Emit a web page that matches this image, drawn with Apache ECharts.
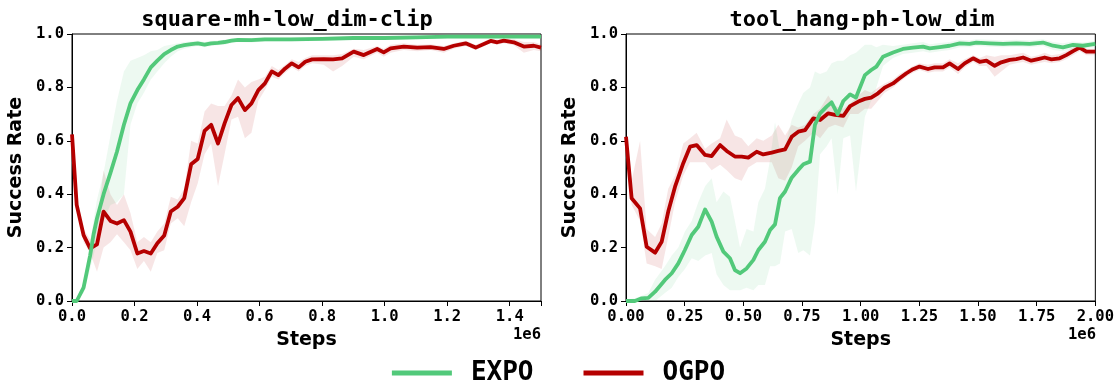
<!DOCTYPE html>
<html><head><meta charset="utf-8">
<script src="https://cdn.jsdelivr.net/npm/echarts@6/dist/echarts.min.js"></script>
<style>html,body{margin:0;padding:0;background:#fff}#c{width:1117px;height:381px}</style>
</head><body><div id="c"></div>
<script>
// ---------- DATA (steps in units of 1e6) ----------
const leftTitle = "square-mh-low_dim-clip";
const rightTitle = "tool_hang-ph-low_dim";
const seriesNames = ["EXPO", "OGPO"];
const leftXTicks = [0, 0.2, 0.4, 0.6, 0.8, 1.0, 1.2, 1.4];
const rightXTicks = [0, 0.25, 0.5, 0.75, 1.0, 1.25, 1.5, 1.75, 2.0];
const yTicks = [0, 0.2, 0.4, 0.6, 0.8, 1.0];

// Left: EXPO
const leftExpoSteps = [0,0.015,0.037,0.058,0.069,0.080,0.101,0.123,0.144,0.166,0.187,0.209,0.230,0.252,0.273,0.295,0.316,0.338,0.359,0.381,0.402,0.424,0.445,0.467,0.488,0.510,0.531,0.574,0.617,0.7,0.8,0.9,1.0,1.1,1.2,1.3,1.4,1.5];
const leftExpoMean  = [0,0.0,0.05,0.17,0.25,0.31,0.40,0.48,0.56,0.66,0.74,0.79,0.83,0.875,0.90,0.925,0.94,0.953,0.958,0.962,0.965,0.96,0.965,0.967,0.97,0.975,0.978,0.977,0.98,0.98,0.982,0.985,0.985,0.987,0.99,0.99,0.99,0.99];
const leftExpoLow   = [0,0,0.03,0.12,0.17,0.22,0.30,0.36,0.37,0.40,0.66,0.74,0.78,0.83,0.86,0.89,0.915,0.935,0.945,0.95,0.955,0.95,0.955,0.958,0.96,0.966,0.97,0.968,0.972,0.972,0.975,0.978,0.978,0.98,0.983,0.983,0.983,0.983];
const leftExpoHigh  = [0,0.01,0.07,0.22,0.30,0.38,0.48,0.62,0.75,0.86,0.90,0.91,0.92,0.935,0.94,0.955,0.96,0.965,0.97,0.972,0.975,0.97,0.975,0.976,0.978,0.982,0.985,0.985,0.988,0.988,0.99,0.992,0.992,0.994,0.996,0.996,0.996,0.996];

// Left: OGPO
const leftOgpoSteps = [0,0.015,0.037,0.058,0.080,0.101,0.123,0.144,0.166,0.187,0.209,0.230,0.252,0.273,0.295,0.316,0.338,0.359,0.381,0.402,0.424,0.445,0.467,0.488,0.510,0.531,0.553,0.574,0.596,0.617,0.639,0.660,0.682,0.703,0.725,0.746,0.768,0.805,0.835,0.864,0.901,0.933,0.976,0.997,1.019,1.061,1.104,1.147,1.189,1.221,1.259,1.291,1.339,1.36,1.381,1.413,1.445,1.477,1.5];
const leftOgpoMean  = [0.624,0.36,0.247,0.197,0.212,0.335,0.30,0.29,0.303,0.26,0.178,0.187,0.178,0.216,0.245,0.335,0.353,0.385,0.512,0.532,0.637,0.66,0.59,0.665,0.734,0.76,0.715,0.74,0.79,0.815,0.86,0.846,0.871,0.89,0.875,0.896,0.905,0.906,0.905,0.909,0.934,0.921,0.944,0.931,0.946,0.953,0.949,0.951,0.944,0.956,0.965,0.949,0.974,0.969,0.975,0.969,0.953,0.956,0.949];
const leftOgpoLow   = [0.62,0.34,0.22,0.18,0.11,0.20,0.22,0.25,0.22,0.19,0.12,0.15,0.11,0.18,0.19,0.29,0.31,0.28,0.37,0.44,0.55,0.59,0.43,0.55,0.68,0.69,0.61,0.63,0.75,0.79,0.84,0.83,0.855,0.875,0.86,0.88,0.89,0.885,0.86,0.88,0.915,0.905,0.93,0.915,0.93,0.94,0.935,0.94,0.93,0.945,0.955,0.94,0.965,0.96,0.965,0.958,0.93,0.94,0.935];
const leftOgpoHigh  = [0.63,0.38,0.27,0.23,0.30,0.49,0.40,0.36,0.40,0.33,0.22,0.24,0.22,0.26,0.29,0.39,0.38,0.42,0.60,0.59,0.71,0.74,0.73,0.73,0.77,0.83,0.80,0.82,0.83,0.84,0.88,0.865,0.885,0.905,0.895,0.91,0.92,0.92,0.92,0.925,0.945,0.94,0.955,0.945,0.96,0.965,0.96,0.962,0.955,0.965,0.975,0.96,0.982,0.978,0.983,0.98,0.97,0.97,0.962];

// Right: EXPO
const rightExpoSteps = [0,0.038,0.067,0.095,0.124,0.166,0.195,0.223,0.251,0.280,0.308,0.337,0.365,0.386,0.415,0.443,0.464,0.486,0.514,0.543,0.564,0.592,0.614,0.635,0.656,0.678,0.706,0.734,0.756,0.784,0.805,0.827,0.855,0.876,0.902,0.926,0.955,0.980,1.018,1.045,1.067,1.095,1.138,1.18,1.223,1.266,1.294,1.337,1.379,1.422,1.464,1.493,1.55,1.607,1.663,1.72,1.777,1.82,1.862,1.905,1.947,2.0];
const rightExpoMean  = [0,0.0,0.01,0.012,0.035,0.079,0.104,0.141,0.191,0.247,0.278,0.343,0.297,0.241,0.185,0.16,0.116,0.104,0.122,0.154,0.191,0.222,0.266,0.287,0.385,0.41,0.462,0.491,0.512,0.522,0.659,0.703,0.728,0.744,0.699,0.749,0.774,0.762,0.846,0.865,0.878,0.915,0.931,0.944,0.949,0.953,0.946,0.951,0.956,0.965,0.963,0.968,0.965,0.963,0.965,0.963,0.968,0.956,0.95,0.959,0.956,0.963];
const rightExpoLow   = [0,0,0,0,0.0,0.03,0.05,0.09,0.12,0.16,0.15,0.17,0.18,0.10,0.06,0.04,0.04,0.04,0.05,0.04,0.06,0.06,0.13,0.13,0.14,0.26,0.27,0.18,0.19,0.17,0.29,0.55,0.58,0.61,0.40,0.61,0.62,0.41,0.69,0.75,0.80,0.88,0.91,0.925,0.93,0.935,0.93,0.935,0.94,0.95,0.95,0.955,0.952,0.95,0.952,0.95,0.955,0.94,0.935,0.945,0.945,0.95];
const rightExpoHigh  = [0.005,0.01,0.02,0.03,0.08,0.13,0.17,0.20,0.26,0.30,0.37,0.43,0.46,0.37,0.41,0.39,0.30,0.20,0.27,0.26,0.37,0.42,0.53,0.67,0.56,0.58,0.68,0.74,0.78,0.80,0.86,0.85,0.86,0.89,0.90,0.90,0.92,0.93,0.96,0.96,0.95,0.96,0.955,0.96,0.965,0.97,0.962,0.966,0.97,0.978,0.976,0.98,0.978,0.976,0.978,0.976,0.98,0.97,0.965,0.972,0.968,0.975];

// Right: OGPO
const rightOgpoSteps = [0,0.024,0.060,0.088,0.124,0.152,0.180,0.209,0.244,0.273,0.301,0.337,0.365,0.401,0.429,0.464,0.493,0.521,0.557,0.585,0.621,0.649,0.678,0.706,0.734,0.763,0.798,0.827,0.862,0.891,0.926,0.955,0.990,1.018,1.045,1.074,1.102,1.138,1.166,1.195,1.223,1.251,1.287,1.315,1.351,1.379,1.415,1.443,1.479,1.507,1.536,1.571,1.599,1.635,1.663,1.692,1.727,1.756,1.784,1.813,1.848,1.876,1.905,1.933,1.962,2.0];
const rightOgpoMean  = [0.615,0.385,0.347,0.203,0.181,0.222,0.335,0.428,0.516,0.578,0.584,0.547,0.543,0.584,0.562,0.541,0.541,0.537,0.559,0.549,0.556,0.562,0.568,0.615,0.634,0.64,0.684,0.678,0.703,0.697,0.693,0.73,0.747,0.757,0.762,0.778,0.799,0.815,0.834,0.853,0.868,0.878,0.869,0.875,0.875,0.89,0.869,0.89,0.909,0.896,0.90,0.881,0.894,0.903,0.906,0.912,0.90,0.906,0.912,0.905,0.909,0.921,0.936,0.949,0.934,0.934];
const rightOgpoLow   = [0.60,0.36,0.30,0.14,0.13,0.12,0.24,0.37,0.47,0.52,0.52,0.52,0.49,0.51,0.49,0.46,0.45,0.50,0.52,0.52,0.52,0.46,0.45,0.50,0.58,0.60,0.63,0.61,0.65,0.66,0.65,0.70,0.70,0.72,0.72,0.75,0.78,0.80,0.82,0.84,0.855,0.865,0.855,0.86,0.86,0.875,0.85,0.875,0.895,0.88,0.88,0.84,0.86,0.885,0.89,0.895,0.885,0.89,0.895,0.89,0.895,0.905,0.92,0.935,0.92,0.92];
const rightOgpoHigh  = [0.63,0.45,0.60,0.27,0.24,0.29,0.42,0.47,0.59,0.61,0.63,0.57,0.59,0.61,0.68,0.62,0.61,0.58,0.61,0.60,0.62,0.66,0.62,0.66,0.65,0.66,0.70,0.72,0.77,0.73,0.72,0.74,0.77,0.79,0.78,0.80,0.815,0.83,0.85,0.865,0.88,0.89,0.885,0.89,0.89,0.905,0.89,0.905,0.92,0.91,0.92,0.915,0.92,0.92,0.925,0.93,0.915,0.92,0.93,0.92,0.925,0.935,0.95,0.96,0.945,0.945];

// ---------- STYLE ----------
const EXPO_COLOR = '#52c97a';
const OGPO_COLOR = '#b50000';
const MONO = "'DejaVu Sans Mono'";
const SANS = "'DejaVu Sans'";

function zip(xs, ys) { return xs.map((x, i) => [x, ys[i]]); }
function bandData(xs, lo, hi) { return xs.map((x, i) => [x, lo[i], hi[i]]); }

function bandSeries(name, gridIdx, xs, lo, hi, color, opacity) {
  return {
    name: name, type: 'custom', xAxisIndex: gridIdx, yAxisIndex: gridIdx,
    data: bandData(xs, lo, hi), encode: { x: 0, y: [1, 2] }, z: 1, silent: true,
    renderItem: function (params, api) {
      if (params.dataIndex !== 0) return null;
      const top = [], bot = [];
      for (let i = 0; i < xs.length; i++) {
        top.push(api.coord([xs[i], hi[i]]));
        bot.push(api.coord([xs[i], lo[i]]));
      }
      return { type: 'polygon', shape: { points: top.concat(bot.reverse()) },
               style: { fill: color, opacity: opacity } };
    }
  };
}
function lineSeries(name, gridIdx, xs, ys, color, z) {
  return { name: name, type: 'line', xAxisIndex: gridIdx, yAxisIndex: gridIdx,
    data: zip(xs, ys), showSymbol: false, symbol: 'none', z: z,
    color: color, lineStyle: { color: color, width: 3.8, join: 'round' }, itemStyle: { color: color } };
}

const tickLabel = { color: '#000', fontFamily: MONO, fontWeight: 'bold', fontSize: 15.5 };
function xAxis(gridIdx, ticks, digits) {
  const step = ticks[1] - ticks[0];
  return { type: 'value', gridIndex: gridIdx, min: 0, max: gridIdx === 0 ? 1.5 : 2.0, interval: step,
    name: 'Steps', nameLocation: 'middle', nameGap: 30,
    nameTextStyle: { color: '#000', fontFamily: SANS, fontWeight: 'bold', fontSize: 19 },
    axisLine: { show: true, lineStyle: { color: '#000', width: 1 } },
    axisTick: { show: true, length: 5, lineStyle: { color: '#000' } },
    splitLine: { show: false },
    axisLabel: Object.assign({ margin: 8, formatter: function (v) {
      const k = Math.round(v / step); return Math.abs(k * step - v) < 1e-6 ? v.toFixed(digits) : '';
    } }, tickLabel) };
}
function yAxis(gridIdx) {
  return { type: 'value', gridIndex: gridIdx, min: 0, max: 1, interval: 0.2,
    name: 'Success Rate', nameLocation: 'middle', nameGap: 46,
    nameTextStyle: { color: '#000', fontFamily: SANS, fontWeight: 'bold', fontSize: 19 },
    axisLine: { show: true, lineStyle: { color: '#000', width: 1 } },
    axisTick: { show: true, length: 5, lineStyle: { color: '#000' } },
    splitLine: { show: false },
    axisLabel: Object.assign({ margin: 8, formatter: v => v.toFixed(1) }, tickLabel) };
}

const chart = echarts.init(document.getElementById('c'), null, { renderer: 'canvas' });
chart.setOption({
  animation: false,
  backgroundColor: '#fff',
  title: [
    { text: leftTitle, left: 282, top: 4, textAlign: 'center',
      textStyle: { fontFamily: MONO, fontWeight: 'bold', fontSize: 22, color: '#000' } },
    { text: rightTitle, left: 857, top: 4, textAlign: 'center',
      textStyle: { fontFamily: MONO, fontWeight: 'bold', fontSize: 22, color: '#000' } }
  ],
  grid: [
    { left: 72, right: 576, top: 34, bottom: 80, show: true, borderColor: '#000', borderWidth: 1 },
    { left: 626, right: 21, top: 34, bottom: 80, show: true, borderColor: '#000', borderWidth: 1 }
  ],
  xAxis: [xAxis(0, leftXTicks, 1), xAxis(1, rightXTicks, 2)],
  yAxis: [yAxis(0), yAxis(1)],
  legend: {
    data: seriesNames, top: 355, left: 'center', icon: 'rect', itemWidth: 60, itemHeight: 5, itemGap: 50,
    textStyle: { fontFamily: MONO, fontWeight: 'bold', fontSize: 26, color: '#000', padding: [0, 0, 0, 14] }
  },
  graphic: [
    { type: 'text', right: 1117 - 541, top: 327, style: { text: '1e6', font: "bold 15.5px 'DejaVu Sans Mono'", fill: '#000' } },
    { type: 'text', right: 1117 - 1096, top: 327, style: { text: '1e6', font: "bold 15.5px 'DejaVu Sans Mono'", fill: '#000' } }
  ],
  series: [
    bandSeries('ogpoBandL', 0, leftOgpoSteps, leftOgpoLow, leftOgpoHigh, OGPO_COLOR, 0.1),
    bandSeries('expoBandL', 0, leftExpoSteps, leftExpoLow, leftExpoHigh, EXPO_COLOR, 0.1),
    lineSeries('OGPO', 0, leftOgpoSteps, leftOgpoMean, OGPO_COLOR, 3),
    lineSeries('EXPO', 0, leftExpoSteps, leftExpoMean, EXPO_COLOR, 4),
    bandSeries('ogpoBandR', 1, rightOgpoSteps, rightOgpoLow, rightOgpoHigh, OGPO_COLOR, 0.1),
    bandSeries('expoBandR', 1, rightExpoSteps, rightExpoLow, rightExpoHigh, EXPO_COLOR, 0.1),
    lineSeries('OGPO', 1, rightOgpoSteps, rightOgpoMean, OGPO_COLOR, 3),
    lineSeries('EXPO', 1, rightExpoSteps, rightExpoMean, EXPO_COLOR, 4)
  ]
});
</script></body></html>
